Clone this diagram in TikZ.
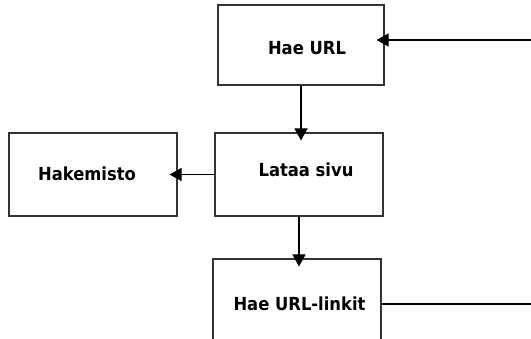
\documentclass[tikz,border=0pt]{standalone}
\usepackage{fontspec}
\newfontfamily\boxfont{DejaVu Sans}[FakeStretch=0.91]
\usepackage{tikz}
\usetikzlibrary{arrows.meta}

\begin{document}
\begin{tikzpicture}
[x=1pt,y=-1pt,
 box/.style={draw=black!80,line width=1.1pt,minimum width=168pt,minimum height=83pt,inner sep=0pt},
 txt/.style={font=\boxfont\bfseries\fontsize{18}{21}\selectfont},
 arr/.style={line width=1.1pt,-{Triangle[length=12pt,width=13pt]},shorten >=-8pt}]
\useasboundingbox (0,0) rectangle (531,339);
\node[box,minimum width=166pt,minimum height=80pt,
	label={[txt,xshift=6pt,yshift=-3pt]center:Hae URL}] (hae) at (301,45) {};
\node[box,label={[txt,xshift=7pt,yshift=4.5pt]center:Lataa sivu}] (lataa) at (299,174.5) {};
\node[box,label={[txt,xshift=-6pt,yshift=0.5pt]center:Hakemisto}] (hakemisto) at (93,174.5) {};
\node[box,label={[txt,xshift=2.5pt,yshift=-3.5pt]center:Hae URL-linkit}] (linkit) at (297,300.5) {};
\coordinate (paluu) at (531,40);
\coordinate (jatko) at (531,304);
\draw[arr] (paluu) -- (paluu -| hae.east);
\draw[arr] (hae.south) -- (hae.south |- lataa.north);
\draw[arr] (lataa.west) -- (hakemisto.east);
\draw[arr] (lataa.south) -- (lataa.south |- linkit.north);
%% linkeistä takaisin alkuun
\draw[line width=1.1pt] (linkit.east |- jatko) -- (jatko);
\end{tikzpicture}
\end{document}
